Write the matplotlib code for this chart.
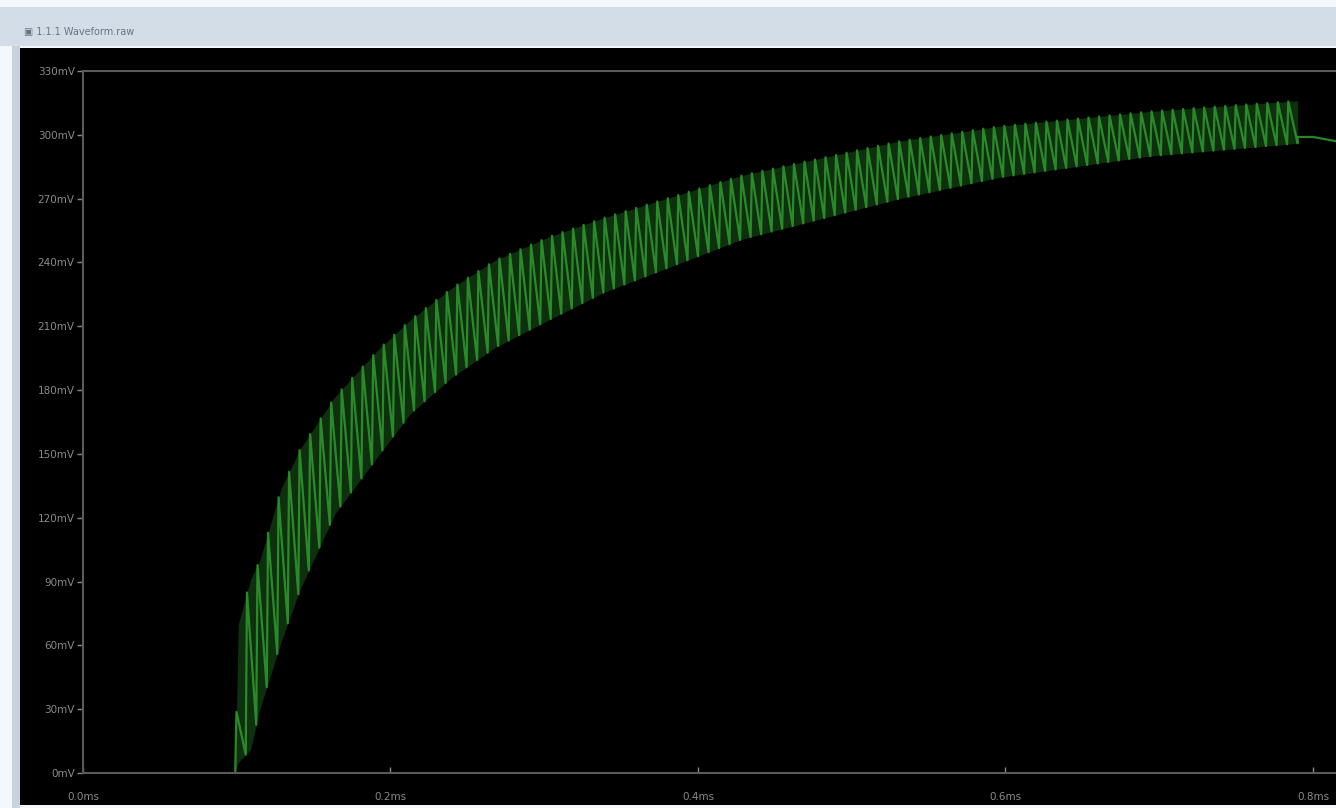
import numpy as np
import matplotlib

matplotlib.use('Agg')
import matplotlib.pyplot as plt
from matplotlib.patches import Rectangle

# ripple envelope (time in ms, voltage in mV)
env_t = [0.099, 0.101, 0.109, 0.115, 0.129, 0.141, 0.164, 0.192, 0.213, 0.240, 0.268,
         0.303, 0.339, 0.429, 0.531, 0.596, 0.694, 0.790]
env_hi = [0, 70, 91, 100, 134, 152, 177, 199, 213, 228, 241, 252, 261, 281, 297, 304, 311, 316]
env_lo = [0, 5, 11, 30, 62, 86, 122, 149, 169, 186, 200, 213, 226, 251, 270, 280, 290, 296]
n_cycles = 101
tail_t = [0.790, 0.800, 0.815]
tail_v = [299, 299, 297]

y_ticks = [0, 30, 60, 90, 120, 150, 180, 210, 240, 270, 300, 330]
x_ticks = [0.0, 0.2, 0.4, 0.6, 0.8]

# sawtooth trace: steep rise to the upper envelope, slower fall to the lower one
starts = np.linspace(env_t[0], env_t[-1], n_cycles + 1)
period = starts[1] - starts[0]
tt, vv = [], []
for s in starts[:-1]:
    tt += [s, s + 0.12 * period]
    vv += [np.interp(s, env_t, env_lo), np.interp(s + 0.12 * period, env_t, env_hi)]
tt += [starts[-1]] + tail_t
vv += [np.interp(starts[-1], env_t, env_lo)] + tail_v

fig = plt.figure(figsize=(13.36, 8.08), dpi=100, facecolor='#f4f7fb')
W, H = 1336, 808

# window chrome
fig.patches.append(Rectangle((0, 1 - 46 / H), 1, 39 / H, transform=fig.transFigure,
                             facecolor='#d3dde8', edgecolor='none', zorder=-2))
fig.patches.append(Rectangle((12 / W, 0), 8 / W, 1 - 46 / H, transform=fig.transFigure,
                             facecolor='#c9d3de', edgecolor='none', zorder=-2))
fig.patches.append(Rectangle((20 / W, 3 / H), 1, 1 - 51 / H, transform=fig.transFigure,
                             facecolor='black', edgecolor='none', zorder=-2))
fig.text(24 / W, 1 - 32 / H, '\u25a3 1.1.1 Waveform.raw', fontsize=7, color='#6a7482',
         va='center', ha='left')

ax = fig.add_axes([83 / W, 35 / H, 1 - 83 / W, (773 - 71) / H])
ax.set_zorder(2)
ax.set_facecolor('black')
ax.fill_between(env_t, env_lo, env_hi, color='#0e300e', lw=0)
ax.plot(tt, vv, color='#2e952e', lw=1.6, alpha=0.9)

ax.set_xlim(0, 0.815)
ax.set_ylim(0, 330)
ax.set_yticks(y_ticks)
ax.set_yticklabels([f'{v}mV' for v in y_ticks])
ax.set_xticks(x_ticks)
ax.set_xticklabels([f'{v:.1f}ms' for v in x_ticks])
ax.tick_params(colors='#8a8a8a', labelsize=7.5, length=4, width=1)
ax.tick_params(axis='x', direction='in', pad=14)
ax.tick_params(axis='y', pad=2)
for side in ['left', 'bottom', 'top']:
    ax.spines[side].set_color('#5a5a5a')
    ax.spines[side].set_linewidth(1.5)
ax.spines['right'].set_visible(False)

fig.savefig('out.png', dpi=100, facecolor=fig.get_facecolor())
